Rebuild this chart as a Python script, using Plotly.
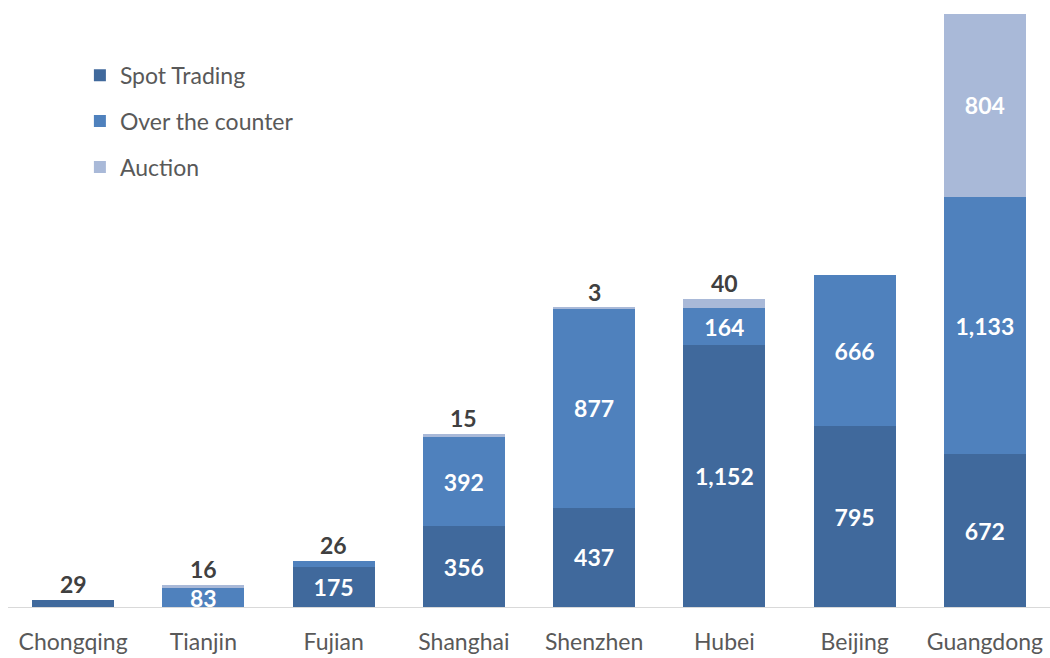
import plotly.graph_objects as go

regions = ["Chongqing", "Tianjin", "Fujian", "Shanghai", "Shenzhen", "Hubei", "Beijing", "Guangdong"]
spot_trading = [29, 0, 175, 356, 437, 1152, 795, 672]
over_the_counter = [0, 83, 26, 392, 877, 164, 666, 1133]
auction = [0, 16, 0, 15, 3, 40, 0, 804]

series = [
    ("Spot Trading", spot_trading, "#40699C"),
    ("Over the counter", over_the_counter, "#4F81BD"),
    ("Auction", auction, "#A9B9D8"),
]

# Segments below this size carry their value label above the stack instead of inside
SMALL = 50
FONT = "Lato"

fig = go.Figure()
for i, (name, vals, color) in enumerate(series):
    texts = [f"{v:,}" if v >= SMALL else "" for v in vals]
    fig.add_trace(go.Bar(
        name=name,
        x=regions,
        y=vals,
        marker=dict(color=color, line=dict(width=0)),
        text=texts,
        textposition="inside",
        insidetextanchor="middle",
        textangle=0,
        constraintext="none",
        insidetextfont=dict(family=FONT, size=23, color="white", weight="bold"),
        legendgroup=f"g{i}",
        hoverinfo="skip",
    ))

# Small segment values shown above the top of each stack
totals = [s + o + a for s, o, a in zip(spot_trading, over_the_counter, auction)]
for idx, region in enumerate(regions):
    for name, vals, color in series:
        v = vals[idx]
        if 0 < v < SMALL:
            fig.add_annotation(
                x=region, y=totals[idx], text=f"{v:,}",
                showarrow=False, yanchor="bottom", yshift=0,
                font=dict(family=FONT, size=23, color="#404040", weight="bold"),
            )

fig.update_layout(
    width=1050, height=658,
    barmode="stack",
    bargap=0.372,
    plot_bgcolor="white",
    paper_bgcolor="white",
    margin=dict(l=8, r=0, t=14, b=51),
    font=dict(family=FONT, color="#595959"),
    legend=dict(
        x=0.069, y=0.933, xanchor="left", yanchor="top",
        font=dict(family=FONT, size=23, color="#595959"),
        tracegroupgap=13,
        traceorder="grouped",
        bgcolor="rgba(0,0,0,0)",
    ),
    showlegend=True,
)
fig.update_xaxes(
    showline=True, linecolor="#D9D9D9", linewidth=1,
    showgrid=False, ticks="outside", ticklen=14, tickcolor="rgba(0,0,0,0)",
    tickfont=dict(family=FONT, size=23, color="#595959"),
)
fig.update_yaxes(
    range=[0, sum([672, 1133, 804])],
    visible=False, showgrid=False, zeroline=False,
)

fig.write_html("out.html")
